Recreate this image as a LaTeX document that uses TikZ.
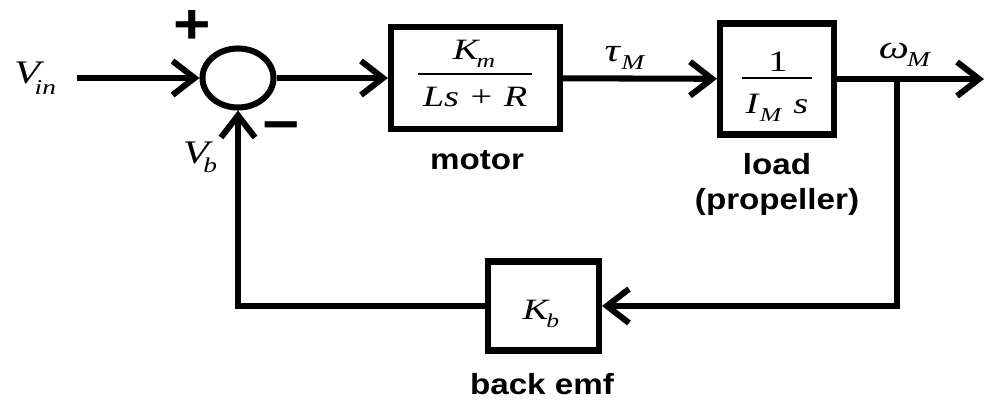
\documentclass[tikz,border=0pt]{standalone}
\usepackage{fontspec}
\usepackage{graphicx}
\setmainfont{Liberation Serif}
\setsansfont{Liberation Sans}
\usetikzlibrary{shapes.geometric,arrows.meta}
\newcommand\Lsub[3][8pt]{\scalebox{1.3}[1]{{\fontsize{23.4}{28}\selectfont\textit{#2}}\raisebox{-#1}{\fontsize{15}{18}\selectfont\textit{#3}}}}
\newcommand\Bsub[3][5.5pt]{{\fontsize{21}{25}\selectfont\textit{#2}}\raisebox{-#1}{\fontsize{14}{17}\selectfont\textit{#3}}}
\newcommand\wid[1]{\scalebox{1.14}[1]{#1}}
\newcommand\bwid[1]{\scalebox{1.3}[1]{\fontsize{21}{25}\selectfont #1}}
\tikzset{
  x=0.025cm, y=-0.025cm,
  every path/.style={line width=4.3pt},
  blk/.style={draw, rectangle, inner sep=0pt},
  arr/.style={-{Straight Barb[length=0.55cm,width=0.85cm]}},
  lbl/.style={inner sep=0pt, font=\fontsize{20.7}{25}\selectfont\sffamily\bfseries},
  sgn/.style={inner sep=0pt, font=\fontsize{40}{44}\selectfont\sffamily\bfseries},
  mth/.style={inner sep=0pt},
  bar/.style={line width=0.9pt}
}
\begin{document}
\begin{tikzpicture}
\useasboundingbox (0,0) rectangle (987,401);
% blocks
\node[draw, ellipse, inner sep=0pt, minimum width=1.775cm, minimum height=1.475cm] (sum) at (238,78) {};
\node[blk, minimum width=4.225cm, minimum height=2.55cm] (motor) at (475.5,78) {};
\node[blk, minimum width=2.85cm, minimum height=2.775cm] (load) at (777,79) {};
\node[blk, minimum width=2.775cm, minimum height=2.225cm] (kb) at (543.5,306) {};
% block contents
\node[mth] (km) at (474,54) {\bwid{\Bsub{K\kern-1pt}{m}}};
\draw[bar] (418,74) -- (532,74);
\node[mth] (den1) at (475,97) {\bwid{\textit{Ls}\hspace{0.3em}+\hspace{0.3em}\textit{R}}};
\node[mth] (one) at (778,62) {\bwid{1}};
\node[mth] (two) at (777,108) {\bwid{\Bsub{I}{M}\hspace{6pt}\textit{s}}};
\draw[bar] (742,78) -- (812,78);
\node[mth] (kbt) at (541,314) {\bwid{\Bsub{K\kern-1pt}{b}}};
% signal labels
\node[mth] (vinl) at (35,78) {\Lsub{V\kern-3pt}{in}};
\node[mth] (vbl) at (200,157) {\Lsub[6.5pt]{V\kern-3pt}{b}};
\node[mth] (taul) at (625,58) {\Lsub[6pt]{τ}{M}};
\node[mth] (oml) at (905,55) {\Lsub[6pt]{ω\kern-1pt}{M}};
\node[sgn] (plus) at (192,27) {\wid{+}};
\node[sgn] (minus) at (281,133) {\wid{−}};
% block labels
\node[lbl] (motorl) at (477,160) {\wid{motor}};
\node[lbl] (loadl) at (777,164) {\wid{load}};
\node[lbl] (propl) at (777,202) {\wid{(propeller)}};
\node[lbl] (bemf) at (542,384) {\wid{back emf}};
% connectors
\coordinate (in) at (77,78);
\coordinate (out) at (984,79);
\coordinate (br) at (897,79);
\draw[arr] (in) -- (sum);
\draw[arr] (sum) -- (motor);
\draw[arr] (motor) -- (load);
\draw[arr] (load) -- (out);
\draw[arr] (br) |- (kb);
\draw[arr] (kb) -| (sum);
\end{tikzpicture}
\end{document}
